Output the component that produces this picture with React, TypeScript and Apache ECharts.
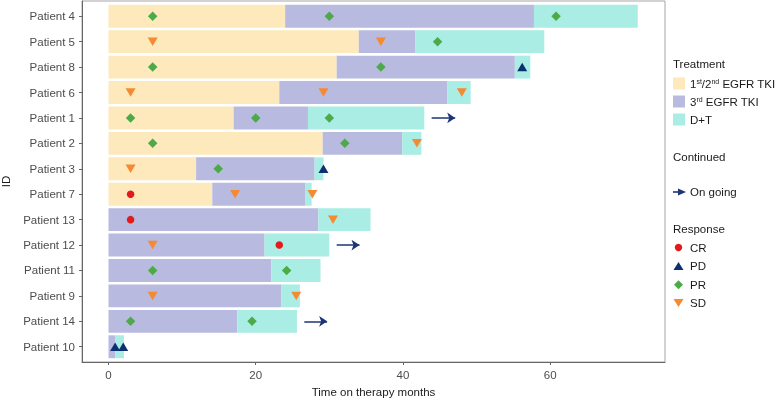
import React, { useEffect, useRef } from "react";
import * as echarts from "echarts";

const patients = [
  "Patient 4", "Patient 5", "Patient 8", "Patient 6", "Patient 1", "Patient 2", "Patient 3",
  "Patient 7", "Patient 13", "Patient 12", "Patient 11", "Patient 9", "Patient 14", "Patient 10",
];
// cumulative end time (months) of each treatment line, per patient
const tki12End = [24.0, 34.0, 31.0, 23.2, 17.0, 29.1, 11.9, 14.1, 0, 0, 0, 0, 0, 0];
const tki3End = [57.8, 41.7, 55.2, 46.0, 27.1, 39.9, 28.0, 26.7, 28.5, 21.2, 22.1, 23.5, 17.5, 0.95];
const dtEnd = [71.9, 59.2, 57.3, 49.2, 42.9, 42.5, 29.2, 27.6, 35.6, 30.0, 28.8, 26.0, 25.6, 2.1];

const respCR: [number, string][] = [[3, "Patient 7"], [3, "Patient 13"], [23.2, "Patient 12"]];
const respPD: [number, string][] = [[56.2, "Patient 8"], [29.2, "Patient 3"], [0.9, "Patient 10"], [2.0, "Patient 10"]];
const respPR: [number, string][] = [
  [6, "Patient 4"], [30, "Patient 4"], [60.8, "Patient 4"], [44.7, "Patient 5"], [6, "Patient 8"], [37, "Patient 8"],
  [3, "Patient 1"], [20, "Patient 1"], [30, "Patient 1"], [6, "Patient 2"], [32.1, "Patient 2"], [14.9, "Patient 3"],
  [6, "Patient 11"], [24.2, "Patient 11"], [3, "Patient 14"], [19.5, "Patient 14"],
];
const respSD: [number, string][] = [
  [6, "Patient 5"], [37, "Patient 5"], [3, "Patient 6"], [29.2, "Patient 6"], [48, "Patient 6"], [41.9, "Patient 2"],
  [3, "Patient 3"], [17.2, "Patient 7"], [27.7, "Patient 7"], [30.5, "Patient 13"], [6, "Patient 12"], [6, "Patient 9"],
  [25.5, "Patient 9"],
];
const ongoing: [string, number, number][] = [["Patient 1", 43.9, 47.1], ["Patient 12", 31.0, 34.1], ["Patient 14", 26.6, 29.7]];
const xTicks = [0, 20, 40, 60];

const C_Y = "#FDE9BB";
const C_P = "#B9BAE0";
const C_T = "#A9EDE4";
const C_CR = "#E4191C";
const C_PD = "#0B3170";
const C_PR = "#4DAA48";
const C_SD = "#F68A33";
const C_AR = "#1C3577";
const FONT = "Liberation Sans";

export default function App() {
  const ref = useRef<HTMLDivElement>(null);
  useEffect(() => {
    if (!ref.current) return;
    const chart = echarts.init(ref.current, null, { renderer: "svg" });
    const idx = (n: string) => patients.indexOf(n);
    const seg = (starts: number[], ends: number[]) =>
      patients.map((_, i) => [i, starts[i], ends[i]]).filter((d) => d[2] > d[1]);
    const zeros = patients.map(() => 0);
    const barSeries = (name: string, data: number[][], color: string) => ({
      type: "custom",
      name,
      data,
      encode: { x: [1, 2], y: 0 },
      renderItem: (_p: any, api: any) => {
        const y = api.value(0);
        const a = api.coord([api.value(1), y]);
        const b = api.coord([api.value(2), y]);
        const h = Math.abs(api.size([0, 0.9])[1]);
        return {
          type: "rect",
          shape: { x: a[0], y: a[1] - h / 2, width: b[0] - a[0], height: h },
          style: { fill: color },
        };
      },
    });
    const pts = (arr: [number, string][]) => arr.map((d) => [d[0], idx(d[1])]);
    const textStyle = (text: string, x: number, y: number, extra: any = {}) => ({
      type: "text",
      x,
      y,
      style: { text, fill: "#1a1a1a", fontSize: 11.5, fontFamily: FONT, verticalAlign: "middle", align: "left", ...extra },
    });
    const rich = {
      n: { fontSize: 11.5, fontFamily: FONT, fill: "#1a1a1a", verticalAlign: "bottom" },
      s: { fontSize: 7, fontFamily: FONT, fill: "#1a1a1a", verticalAlign: "top" },
    };
    const lx = 673;
    const mx = 678.5;
    const tx = 690;
    chart.setOption({
      animation: false,
      grid: {
        left: 82, right: 110, top: 1, bottom: 40, show: true, borderColor: "#a6a6a6", borderWidth: 1,
        containLabel: false, outerBoundsMode: "none",
      },
      xAxis: {
        type: "value",
        min: -3.6,
        max: 75.6,
        name: "Time on therapy months",
        nameLocation: "middle",
        nameGap: 24,
        nameTextStyle: { color: "#1a1a1a", fontSize: 11.5, fontFamily: FONT },
        splitLine: { show: false },
        axisLine: { show: true, onZero: false, lineStyle: { color: "#666", width: 1 } },
        axisTick: { show: true, length: 3, customValues: xTicks, lineStyle: { color: "#666" } },
        axisLabel: { customValues: xTicks, margin: 7, color: "#4d4d4d", fontSize: 11.5, fontFamily: FONT },
      },
      yAxis: {
        type: "value",
        inverse: true,
        min: -0.6,
        max: 13.6,
        name: "ID",
        nameLocation: "middle",
        nameGap: 70,
        nameTextStyle: { color: "#1a1a1a", fontSize: 11.5, fontFamily: FONT },
        splitLine: { show: false },
        axisLine: { show: true, onZero: false, lineStyle: { color: "#666", width: 1 } },
        axisTick: { show: true, length: 3, customValues: patients.map((_, i) => i), lineStyle: { color: "#666" } },
        axisLabel: {
          customValues: patients.map((_, i) => i),
          formatter: (v: number) => patients[Math.round(v)] ?? "",
          margin: 7,
          color: "#4d4d4d",
          fontSize: 11.5,
          fontFamily: FONT,
        },
      },
      series: [
        barSeries("1st/2nd EGFR TKI", seg(zeros, tki12End), C_Y),
        barSeries("3rd EGFR TKI", seg(tki12End, tki3End), C_P),
        barSeries("D+T", seg(tki3End, dtEnd), C_T),
        { type: "scatter", name: "CR", data: pts(respCR), symbol: "circle", symbolSize: 7.5, itemStyle: { color: C_CR, opacity: 1 } },
        { type: "scatter", name: "PD", data: pts(respPD), symbol: "triangle", symbolSize: [10, 8.5], itemStyle: { color: C_PD, opacity: 1 } },
        { type: "scatter", name: "PR", data: pts(respPR), symbol: "diamond", symbolSize: [9.5, 9.5], itemStyle: { color: C_PR, opacity: 1 } },
        { type: "scatter", name: "SD", data: pts(respSD), symbol: "triangle", symbolRotate: 180, symbolSize: [10, 8.5], itemStyle: { color: C_SD, opacity: 1 } },
        {
          type: "lines",
          coordinateSystem: "cartesian2d",
          name: "On going",
          data: ongoing.map((d) => ({ coords: [[d[1], idx(d[0])], [d[2], idx(d[0])]] })),
          symbol: ["none", "arrow"],
          symbolSize: 8,
          lineStyle: { color: C_AR, width: 1.6, opacity: 1 },
        },
      ],
      graphic: [
        textStyle("Treatment", lx, 64),
        { type: "rect", shape: { x: lx, y: 77.5, width: 12, height: 12 }, style: { fill: C_Y } },
        {
          type: "text", x: tx, y: 83.5,
          style: { text: "{n|1}{s|st}{n|/2}{s|nd}{n| EGFR TKI}", fill: "#1a1a1a", fontFamily: FONT, verticalAlign: "middle", rich },
        },
        { type: "rect", shape: { x: lx, y: 95.5, width: 12, height: 12 }, style: { fill: C_P } },
        {
          type: "text", x: tx, y: 101.5,
          style: { text: "{n|3}{s|rd}{n| EGFR TKI}", fill: "#1a1a1a", fontFamily: FONT, verticalAlign: "middle", rich },
        },
        { type: "rect", shape: { x: lx, y: 113.5, width: 12, height: 12 }, style: { fill: C_T } },
        textStyle("D+T", tx, 119.5),
        textStyle("Continued", lx, 157),
        { type: "line", shape: { x1: lx, y1: 192, x2: 680, y2: 192 }, style: { stroke: C_AR, lineWidth: 1.6 } },
        { type: "polygon", shape: { points: [[678, 188.5], [686, 192], [678, 195.5]] }, style: { fill: C_AR } },
        textStyle("On going", tx, 192),
        textStyle("Response", lx, 228.5),
        { type: "circle", shape: { cx: mx, cy: 247.5, r: 3.7 }, style: { fill: C_CR } },
        textStyle("CR", tx, 247.5),
        { type: "polygon", shape: { points: [[mx - 5, 270], [mx + 5, 270], [mx, 262]] }, style: { fill: C_PD } },
        textStyle("PD", tx, 266),
        { type: "polygon", shape: { points: [[mx, 280.2], [mx + 4.5, 284.7], [mx, 289.2], [mx - 4.5, 284.7]] }, style: { fill: C_PR } },
        textStyle("PR", tx, 284.7),
        { type: "polygon", shape: { points: [[mx - 5, 299], [mx + 5, 299], [mx, 307]] }, style: { fill: C_SD } },
        textStyle("SD", tx, 302.7),
      ],
    });
    return () => chart.dispose();
  }, []);
  return <div ref={ref} style={{ position: "fixed", left: 0, top: 0, width: 775, height: 402 }} />;
}
